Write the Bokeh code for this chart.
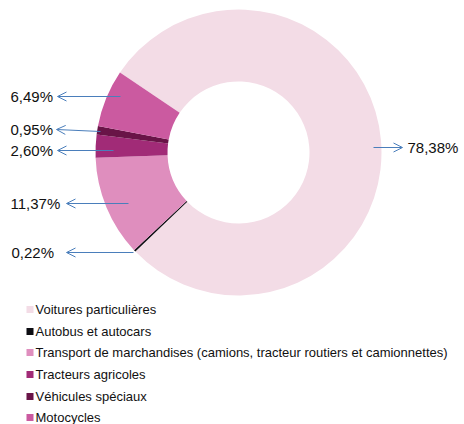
import math
from bokeh.plotting import figure
from bokeh.models import ColumnDataSource, Range1d, Arrow, OpenHead
from bokeh.core.properties import value
from bokeh.embed import file_html
from bokeh.resources import INLINE

# ---- data ----
categories = ["Voitures particulières", "Autobus et autocars",
              "Transport de marchandises (camions, tracteur routiers et camionnettes)",
              "Tracteurs agricoles", "Véhicules spéciaux", "Motocycles"]
shares = [78.38, 0.22, 11.37, 2.60, 0.95, 6.49]
colors = ["#F3DCE6", "#0D0D12", "#DF8EBE", "#A12B77", "#691447", "#CB5AA0"]

# ---- layout (image pixel coordinates; data y = -image y) ----
cx, cy = 238, 152
r_out, r_in = 143, 71
first_angle_cw = 304.0          # first slice starts here, clockwise from 12 o'clock
label_x = [407, 11, 10, 10, 10, 10]
label_y = [147, 252, 203, 150, 129, 96]
arrow_start_x = [373, 133, 128, 113, 100, 120]
arrow_start_y = [147, 252, 203, 150, 131, 96]
arrow_end_x = [402, 66, 66, 57, 56, 57]
arrow_end_y = [147, 252, 203, 150, 129, 96]
legend_y = [309, 331, 352, 374, 396, 417]
FONT = value("Liberation Sans")

total = sum(shares)
starts, ends = [], []
cum = 0.0
for s in shares:
    a0 = first_angle_cw + cum / total * 360.0
    a1 = first_angle_cw + (cum + s) / total * 360.0
    starts.append(math.radians(90.0 - a0))
    ends.append(math.radians(90.0 - a1))
    cum += s

p = figure(width=464, height=424, x_range=Range1d(0, 464), y_range=Range1d(-424, 0),
           output_backend="svg", toolbar_location=None, min_border=0,
           x_axis_type=None, y_axis_type=None, outline_line_color=None)
p.grid.visible = False
p.background_fill_color = "white"
p.border_fill_color = "white"

wsrc = ColumnDataSource(dict(start=starts, end=ends, color=colors))
p.annular_wedge(x=cx, y=-cy, inner_radius=r_in, outer_radius=r_out,
                start_angle="start", end_angle="end", direction="clock",
                fill_color="color", line_color=None, source=wsrc)

asrc = ColumnDataSource(dict(x0=arrow_start_x, y0=[-v for v in arrow_start_y],
                             x1=arrow_end_x, y1=[-v for v in arrow_end_y]))
p.add_layout(Arrow(end=OpenHead(size=9, line_color="#4A7EBB", line_width=1),
                   x_start="x0", y_start="y0", x_end="x1", y_end="y1",
                   line_color="#4A7EBB", line_width=1, source=asrc))

labels = [f"{v:.2f}".replace(".", ",") + "%" for v in shares]
lsrc = ColumnDataSource(dict(x=label_x, y=[-v for v in label_y], t=labels))
p.text(x="x", y="y", text="t", source=lsrc, text_font=FONT, text_font_size="15px",
       text_align="left", text_baseline="middle", text_color="#111111")

gsrc = ColumnDataSource(dict(x=[29.5] * len(categories), tx=[35] * len(categories),
                             y=[-v for v in legend_y], t=categories, color=colors))
p.scatter(x="x", y="y", marker="square", size=7, fill_color="color", line_color=None, source=gsrc)
p.text(x="tx", y="y", text="t", source=gsrc, text_font=FONT, text_font_size="13px",
       text_align="left", text_baseline="middle", text_color="#111111")

open("out.html", "w").write(file_html(p, INLINE))
